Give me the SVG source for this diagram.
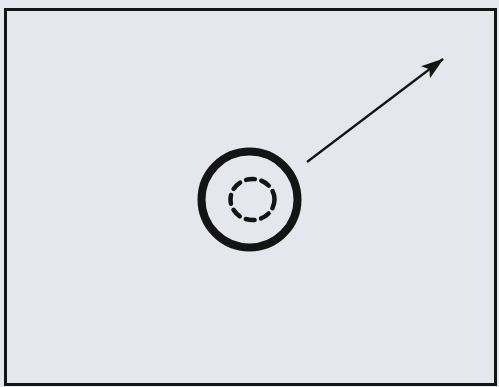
<svg xmlns="http://www.w3.org/2000/svg" width="499" height="387" viewBox="0 0 499 387">
<defs>
<style>
.ink{fill:none;stroke:#141414}
</style>
<marker id="ah" markerWidth="23" markerHeight="15" refX="22" refY="7.5" orient="auto" markerUnits="userSpaceOnUse" viewBox="0 0 23 15">
<path d="M0,0 L23,7.5 L0,15 L5,7.5 Z" fill="#141414"/>
</marker>
</defs>
<rect x="0" y="0" width="499" height="387" fill="#e6e7ec"/>
<rect x="5.5" y="9.5" width="490" height="375" fill="#e9eaef" class="ink" stroke-width="3"/>
<g id="cell">
<circle cx="249.5" cy="199.5" r="48" class="ink" stroke-width="8"/>
</g>
<g id="nucleus">
<ellipse cx="252.5" cy="199.5" rx="22" ry="20.5" class="ink" stroke-width="4.5" stroke-dasharray="9 6.5" stroke-linecap="round"/>
</g>
<g id="connectors">
<line x1="307" y1="162" x2="443" y2="59" class="ink" stroke-width="2.2" marker-end="url(#ah)"/>
</g>
</svg>
